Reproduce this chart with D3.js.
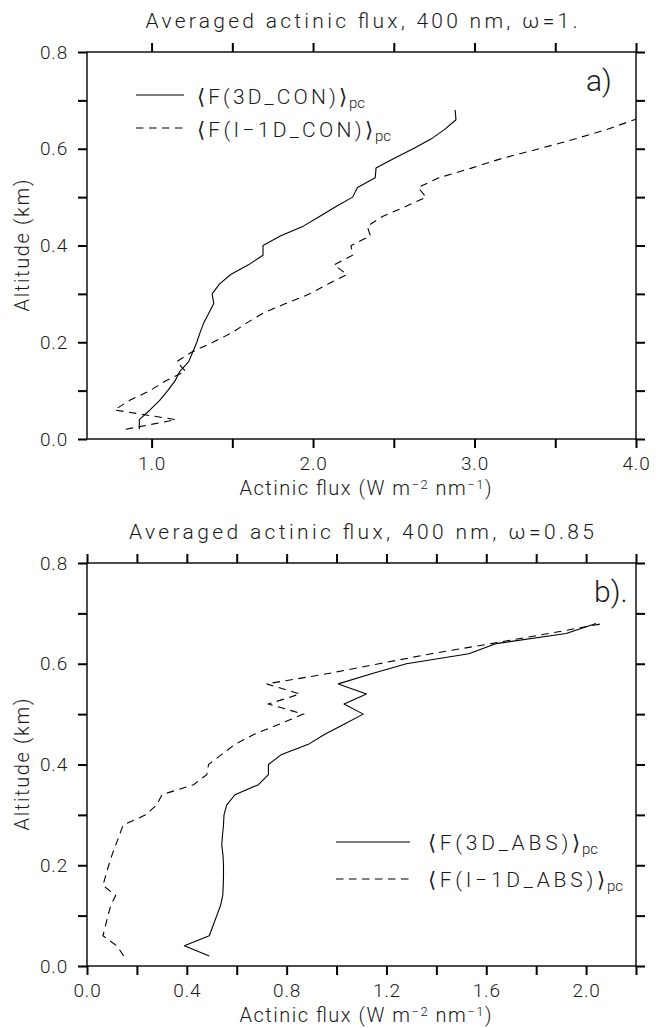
<!DOCTYPE html>
<html><head><meta charset="utf-8">
<script src="https://cdn.jsdelivr.net/npm/d3@7"></script>
<style>
body{margin:0;background:#fff}
svg{display:block}
text{font-family:Roboto,"DejaVu Sans",sans-serif;font-weight:300;fill:#1a1a1a}
</style>
</head><body>
<svg id="c" width="663" height="1028"></svg>
<script>
// ---------- data: panel a) omega = 1 ----------
const altA3D = [0.02,0.04,0.06,0.08,0.10,0.12,0.14,0.16,0.18,0.20,0.22,0.24,0.26,0.28,0.30,0.32,0.34,0.36,0.38,0.40,0.42,0.44,0.46,0.48,0.50,0.52,0.54,0.56,0.58,0.60,0.62,0.64,0.66,0.68];
const fluxA3D = [0.924,0.924,0.99,1.05,1.10,1.145,1.175,1.23,1.255,1.28,1.30,1.323,1.354,1.385,1.375,1.42,1.49,1.60,1.69,1.69,1.80,1.94,2.04,2.14,2.245,2.275,2.385,2.39,2.50,2.62,2.73,2.815,2.885,2.88];
const altA1D = [0.02,0.04,0.06,0.08,0.10,0.12,0.14,0.16,0.18,0.20,0.22,0.24,0.26,0.28,0.30,0.32,0.34,0.36,0.38,0.40,0.42,0.44,0.46,0.48,0.50,0.52,0.54,0.56,0.58,0.60,0.62,0.64,0.66,0.68];
const fluxA1D = [0.84,1.15,0.77,0.865,0.99,1.085,1.21,1.155,1.25,1.38,1.50,1.59,1.69,1.83,1.98,2.09,2.21,2.13,2.245,2.235,2.355,2.335,2.43,2.57,2.70,2.65,2.78,2.98,3.17,3.40,3.62,3.82,3.99,4.15];

// ---------- data: panel b) omega = 0.85 ----------
const altB3D = [0.02,0.04,0.06,0.08,0.10,0.12,0.14,0.16,0.18,0.20,0.22,0.24,0.26,0.28,0.30,0.32,0.34,0.36,0.38,0.40,0.42,0.44,0.46,0.48,0.50,0.52,0.54,0.56,0.58,0.60,0.62,0.64,0.66,0.68];
const fluxB3D = [0.49,0.39,0.49,0.505,0.52,0.535,0.544,0.546,0.547,0.547,0.545,0.54,0.543,0.547,0.549,0.56,0.593,0.687,0.727,0.727,0.78,0.887,0.953,1.03,1.107,1.03,1.12,1.007,1.14,1.28,1.53,1.64,1.92,2.04];
const altB1D = [0.02,0.04,0.06,0.08,0.10,0.12,0.14,0.16,0.18,0.20,0.22,0.24,0.26,0.28,0.30,0.32,0.34,0.36,0.38,0.40,0.42,0.44,0.46,0.48,0.50,0.52,0.54,0.56,0.58,0.60,0.62,0.64,0.66,0.68];
const fluxB1D = [0.147,0.12,0.064,0.074,0.084,0.095,0.115,0.064,0.075,0.087,0.10,0.115,0.13,0.145,0.235,0.28,0.30,0.427,0.48,0.487,0.54,0.593,0.67,0.77,0.867,0.727,0.853,0.72,0.96,1.17,1.38,1.62,1.85,2.07];

// ---------- ticks / labels ----------
const altTicks = [0,0.1,0.2,0.3,0.4,0.5,0.6,0.7,0.8];
const altLabelTicks = [0,0.2,0.4,0.6,0.8];
const xTicksA = [1.0,1.5,2.0,2.5,3.0,3.5,4.0];
const xLabelTicksA = [1.0,2.0,3.0,4.0];
const xTicksB = [0,0.2,0.4,0.6,0.8,1.0,1.2,1.4,1.6,1.8,2.0,2.2];
const xLabelTicksB = [0,0.4,0.8,1.2,1.6,2.0];
const titleA = "Averaged actinic flux, 400 nm, \u03C9=1.";
const titleB = "Averaged actinic flux, 400 nm, \u03C9=0.85";
const legendA = ["\u27E8F(3D_CON)\u27E9", "\u27E8F(I\u22121D_CON)\u27E9"];
const legendB = ["\u27E8F(3D_ABS)\u27E9", "\u27E8F(I\u22121D_ABS)\u27E9"];

const svg = d3.select("#c");
const L = 87, R = 636;

function panel(o) {
  const x = d3.scaleLinear().domain(o.xDomain).range([L, R]);
  const y = d3.scaleLinear().domain([0, 0.8]).range([o.bottom, o.top]);
  const g = svg.append("g");
  const cid = "clip" + o.id;
  svg.append("defs").append("clipPath").attr("id", cid)
    .append("rect").attr("x", L).attr("y", o.top).attr("width", R - L).attr("height", o.bottom - o.top);

  const has = (arr, v) => arr.some(a => Math.abs(a - v) < 1e-9);
  const fmt1 = d3.format(".1f");

  const ax = (sel) => { sel.select(".domain").remove(); sel.selectAll(".tick line").attr("stroke", "#000").attr("stroke-width", 2); sel.selectAll("text").attr("font-size", 19).attr("fill", "#1a1a1a").attr("font-family", null).attr("letter-spacing", "0.8px"); };

  g.append("g").attr("transform", `translate(0,${o.bottom})`)
    .call(d3.axisBottom(x).tickValues(o.xTicks).tickSize(9).tickPadding(9).tickSizeOuter(0)
      .tickFormat(d => has(o.xLabels, d) ? fmt1(d) : "")).call(ax);
  g.append("g").attr("transform", `translate(0,${o.top})`)
    .call(d3.axisTop(x).tickValues(o.xTicks).tickSize(9).tickSizeOuter(0).tickFormat("")).call(ax);
  g.append("g").attr("transform", `translate(${L},0)`)
    .call(d3.axisLeft(y).tickValues(altTicks).tickSize(9).tickPadding(10).tickSizeOuter(0)
      .tickFormat(d => has(altLabelTicks, d) ? fmt1(d) : "")).call(ax);
  g.append("g").attr("transform", `translate(${R},0)`)
    .call(d3.axisRight(y).tickValues(altTicks).tickSize(9).tickSizeOuter(0).tickFormat("")).call(ax);

  g.append("rect").attr("x", L).attr("y", o.top).attr("width", R - L).attr("height", o.bottom - o.top)
    .attr("fill", "none").attr("stroke", "#000").attr("stroke-width", 1.4);

  const line = d3.line().x(d => x(d[0])).y(d => y(d[1]));
  const lg = g.append("g").attr("clip-path", `url(#${cid})`);
  lg.append("path").datum(d3.zip(o.flux3D, o.alt3D)).attr("d", line)
    .attr("fill", "none").attr("stroke", "#000").attr("stroke-width", 1.1).attr("stroke-linejoin", "round");
  lg.append("path").datum(d3.zip(o.flux1D, o.alt1D)).attr("d", line)
    .attr("fill", "none").attr("stroke", "#000").attr("stroke-width", 1.1).attr("stroke-dasharray", "7.5,5.5");

  // title
  g.append("text").attr("x", (L + R) / 2).attr("y", o.top - 24.5).attr("text-anchor", "middle")
    .attr("font-size", 21).attr("textLength", o.titleW).attr("lengthAdjust", "spacing").text(o.title);
  // y label
  g.append("text").attr("transform", `translate(29,${(o.top + o.bottom) / 2}) rotate(-90)`)
    .attr("text-anchor", "middle").attr("font-size", 20).attr("textLength", 132).attr("lengthAdjust", "spacing")
    .text("Altitude (km)");
  // x label
  const xl = g.append("text").attr("x", (L + R) / 2 + 4).attr("y", o.bottom + 56).attr("text-anchor", "middle")
    .attr("font-size", 20).attr("textLength", 252).attr("lengthAdjust", "spacing");
  xl.append("tspan").text("Actinic flux (W m");
  xl.append("tspan").attr("dy", -6).attr("font-size", 13).text("\u22122");
  xl.append("tspan").attr("dy", 6).text(" nm");
  xl.append("tspan").attr("dy", -6).attr("font-size", 13).text("\u22121");
  xl.append("tspan").attr("dy", 6).text(")");
  // panel letter
  g.append("text").attr("x", o.letterX).attr("y", o.letterY).attr("font-size", 30).attr("font-weight", 200)
    .text(o.letter);

  // legend
  o.legend.forEach((t, i) => {
    const ly = o.legY[i];
    g.append("line").attr("x1", o.legX1).attr("x2", o.legX2).attr("y1", ly).attr("y2", ly)
      .attr("stroke", "#000").attr("stroke-width", 1.1).attr("stroke-dasharray", i ? "7.5,5.5" : null);
    g.append("text").attr("x", o.legTX).attr("y", ly + o.legBase).attr("font-size", 21)
      .attr("textLength", o.legW[i]).attr("lengthAdjust", "spacing").text(t);
    g.append("text").attr("x", o.legTX + o.legW[i] + 2).attr("y", ly + o.legBase + 4).attr("font-size", 15).text("pc");
  });
}

panel({id: "a", xDomain: [0.6, 4.0], top: 52, bottom: 439, xTicks: xTicksA, xLabels: xLabelTicksA,
  alt3D: altA3D, flux3D: fluxA3D, alt1D: altA1D, flux1D: fluxA1D,
  title: titleA, titleW: 432, letter: "a)", letterX: 586, letterY: 91,
  legend: legendA, legY: [95, 128], legX1: 136, legX2: 184, legTX: 197, legBase: 9, legW: [150, 176]});

panel({id: "b", xDomain: [0, 2.2], top: 563, bottom: 966, xTicks: xTicksB, xLabels: xLabelTicksB,
  alt3D: altB3D, flux3D: fluxB3D, alt1D: altB1D, flux1D: fluxB1D,
  title: titleB, titleW: 465, letter: "b).", letterX: 594, letterY: 602,
  legend: legendB, legY: [842, 879], legX1: 336, legX2: 410, legTX: 428, legBase: 8, legW: [152, 177]});
</script>
</body></html>
